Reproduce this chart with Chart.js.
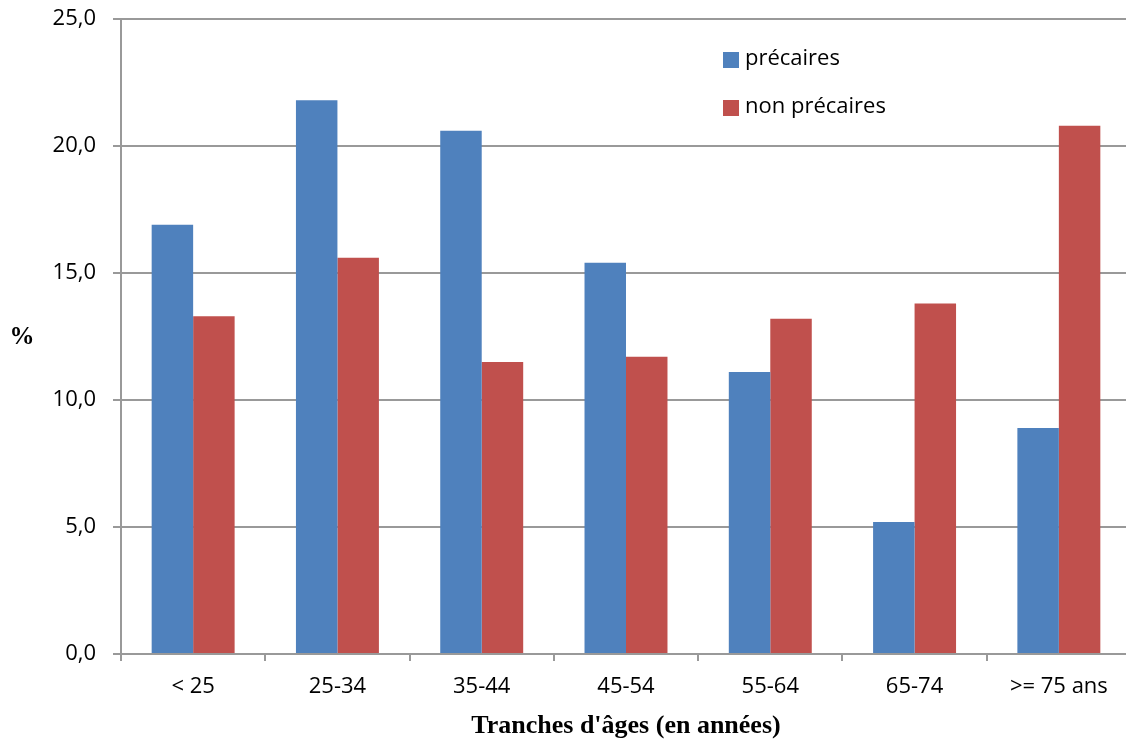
<!DOCTYPE html>
<html>
<head>
<meta charset="utf-8">
<script src="https://cdn.jsdelivr.net/npm/chart.js@4/dist/chart.umd.min.js"></script>
<style>
    html, body { margin: 0; padding: 0; background: #fff; overflow: hidden; }
    #wrap { width: 1132px; height: 742px; }
</style>
</head>
<body>
<div id="wrap"><canvas id="graphe" width="1132" height="742"></canvas></div>
<script>
// Données
const categories = ['< 25', '25-34', '35-44', '45-54', '55-64', '65-74', '>= 75 ans'];
const precaires = [16.9, 21.8, 20.6, 15.4, 11.1, 5.2, 8.9];
const nonPrecaires = [13.3, 15.6, 11.5, 11.7, 13.2, 13.8, 20.8];
const yTicks = [0, 5, 10, 15, 20, 25];

const fontTicks = "'Open Sans', 'Lato', sans-serif";
const fontTitle = "'Liberation Serif', 'DejaVu Serif', serif";

// Légende et titre "%" dessinés à la main
const extras = {
    id: 'extras',
    afterDraw(chart) {
        const ctx = chart.ctx;
        ctx.save();
        ctx.font = '22px ' + fontTicks;
        ctx.textBaseline = 'middle';
        ctx.textAlign = 'left';
        chart.data.datasets.forEach((ds, i) => {
            const y = 60 + i * 48;
            ctx.fillStyle = ds.backgroundColor;
            ctx.fillRect(723, y - 8, 16, 16);
            ctx.fillStyle = '#000';
            ctx.fillText(ds.label, 745, y - 1);
        });
        ctx.font = 'bold 25px ' + fontTitle;
        ctx.textAlign = 'center';
        ctx.fillText('%', 22, 338);
        ctx.restore();
    }
};

new Chart(document.getElementById('graphe').getContext('2d'), {
    type: 'bar',
    data: {
        labels: categories,
        datasets: [
            { label: 'précaires', data: precaires, backgroundColor: '#4F81BD' },
            { label: 'non précaires', data: nonPrecaires, backgroundColor: '#C0504D' }
        ]
    },
    options: {
        responsive: false,
        animation: false,
        layout: { padding: { top: 19, right: 1, left: 0, bottom: 0 } },
        datasets: { bar: { categoryPercentage: 0.575, barPercentage: 1.0 } },
        plugins: { legend: { display: false }, tooltip: { enabled: false } },
        scales: {
            x: {
                grid: { offset: true, drawOnChartArea: false, color: '#999', tickLength: 7, lineWidth: 2 },
                border: { color: '#999', width: 2 },
                ticks: { color: '#000', font: { family: fontTicks, size: 22 }, padding: 13, maxRotation: 0 },
                title: {
                    display: true,
                    text: "Tranches d'âges (en années)",
                    color: '#000',
                    font: { family: fontTitle, size: 26, weight: 'bold' },
                    padding: { top: 0, bottom: 0 }
                },
                afterFit(scale) {
                    scale.height = 742 - 654;
                    scale.paddingLeft = 0;
                    scale.paddingRight = 0;
                }
            },
            y: {
                min: 0,
                max: 25,
                afterBuildTicks(scale) { scale.ticks = yTicks.map(v => ({ value: v })); },
                grid: { color: '#999', tickLength: 8, lineWidth: 2 },
                border: { color: '#999', width: 2 },
                ticks: {
                    color: '#000',
                    font: { family: fontTicks, size: 22 },
                    padding: 17,
                    callback: v => v.toFixed(1).replace('.', ',')
                },
                afterFit(scale) {
                    scale.width = 121;
                    scale.paddingTop = 0;
                    scale.paddingBottom = 0;
                }
            }
        }
    },
    plugins: [extras]
});
</script>
</body>
</html>
